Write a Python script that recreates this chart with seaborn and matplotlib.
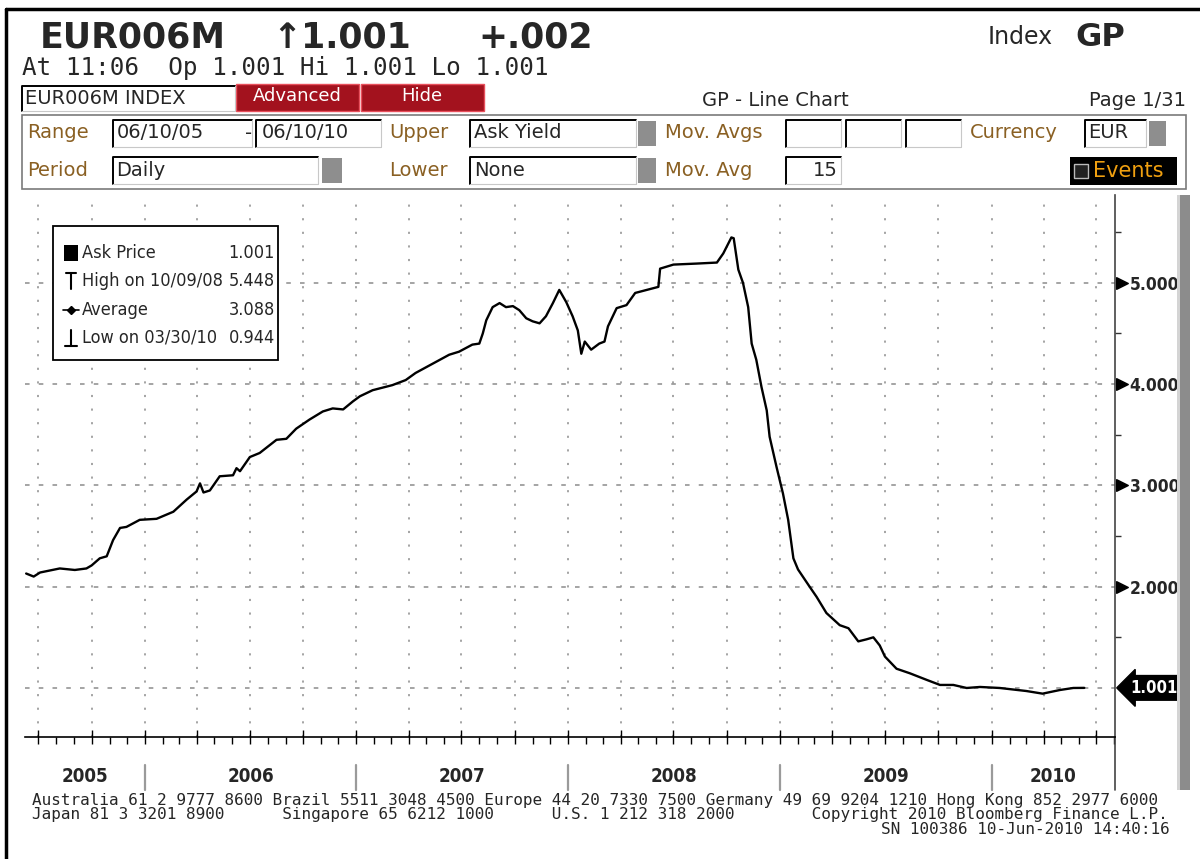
import matplotlib
matplotlib.use("Agg")
import matplotlib.pyplot as plt
import matplotlib.dates as mdates
import matplotlib.transforms as mtransforms
from matplotlib.patches import Rectangle
from matplotlib.lines import Line2D
from matplotlib.ticker import FixedLocator, NullFormatter
import pandas as pd
import seaborn as sns

# ---- data (EUR006M, ask yield, daily) ----
dates = [
    "2005-06-10", "2005-06-23", "2005-07-04", "2005-08-07", "2005-09-02", "2005-09-22",
    "2005-10-01", "2005-10-15", "2005-10-27", "2005-11-07", "2005-11-19", "2005-11-30",
    "2005-12-23", "2006-01-21", "2006-02-19", "2006-03-14", "2006-03-31", "2006-04-06",
    "2006-04-12", "2006-04-23", "2006-05-10", "2006-06-02", "2006-06-08", "2006-06-14",
    "2006-07-01", "2006-07-18", "2006-08-16", "2006-09-02", "2006-09-19", "2006-10-12",
    "2006-11-04", "2006-11-21", "2006-12-09", "2006-12-26", "2007-01-07", "2007-01-29",
    "2007-03-04", "2007-03-27", "2007-04-13", "2007-05-12", "2007-06-10", "2007-06-27",
    "2007-07-20", "2007-08-01", "2007-08-07", "2007-08-13", "2007-08-24", "2007-09-05",
    "2007-09-16", "2007-09-28", "2007-10-09", "2007-10-21", "2007-11-01", "2007-11-13",
    "2007-11-24", "2007-12-06", "2007-12-17", "2007-12-29", "2008-01-09", "2008-01-18",
    "2008-01-24", "2008-01-30", "2008-02-10", "2008-02-24", "2008-03-04", "2008-03-10",
    "2008-03-25", "2008-04-11", "2008-04-26", "2008-05-16", "2008-06-05", "2008-06-08",
    "2008-07-01", "2008-08-10", "2008-09-14", "2008-09-25", "2008-10-09", "2008-10-13",
    "2008-10-21", "2008-10-29", "2008-11-07", "2008-11-13", "2008-11-21", "2008-11-30",
    "2008-12-09", "2008-12-14", "2008-12-26", "2009-01-06", "2009-01-15", "2009-01-24",
    "2009-02-01", "2009-02-21", "2009-03-05", "2009-03-22", "2009-04-14", "2009-04-29",
    "2009-05-16", "2009-05-30", "2009-06-11", "2009-06-22", "2009-07-01", "2009-07-21",
    "2009-08-13", "2009-09-11", "2009-10-04", "2009-10-27", "2009-11-19", "2009-12-12",
    "2010-01-15", "2010-03-02", "2010-03-30", "2010-04-29", "2010-05-22", "2010-06-10",
]
ask_yield = [
    2.13, 2.10, 2.14, 2.18, 2.165, 2.18,
    2.21, 2.28, 2.30, 2.46, 2.58, 2.59,
    2.66, 2.67, 2.74, 2.86, 2.94, 3.02,
    2.93, 2.95, 3.09, 3.10, 3.17, 3.14,
    3.28, 3.32, 3.45, 3.46, 3.56, 3.65,
    3.73, 3.76, 3.75, 3.83, 3.88, 3.94,
    3.99, 4.04, 4.11, 4.20, 4.29, 4.32,
    4.39, 4.40, 4.50, 4.63, 4.76, 4.80,
    4.76, 4.77, 4.73, 4.65, 4.62, 4.60,
    4.67, 4.80, 4.93, 4.81, 4.67, 4.53,
    4.30, 4.42, 4.34, 4.40, 4.42, 4.57,
    4.75, 4.78, 4.90, 4.93, 4.96, 5.14,
    5.18, 5.19, 5.20, 5.29, 5.448, 5.44,
    5.13, 5.00, 4.76, 4.40, 4.24, 3.97,
    3.74, 3.48, 3.18, 2.92, 2.66, 2.28,
    2.17, 2.00, 1.90, 1.74, 1.62, 1.59,
    1.46, 1.48, 1.50, 1.42, 1.31, 1.19,
    1.145, 1.08, 1.03, 1.03, 1.00, 1.01,
    1.00, 0.97, 0.944, 0.98, 1.00, 1.001,
]
y_ticks = [1, 2, 3, 4, 5]
y_tick_labels = ["", "2.000", "3.000", "4.000", "5.000"]
y_minor = [1.5, 2.5, 3.5, 4.5, 5.5]
year_labels = ["2005", "2006", "2007", "2008", "2009", "2010"]
legend_labels = ["Ask Price", "High on 10/09/08", "Average", "Low on 03/30/10"]
legend_values = ["1.001", "5.448", "3.088", "0.944"]
last_value = 1.001

sns.set_style("white")
plt.rcParams["font.family"] = ["DejaVu Sans"]

W, H = 1200, 859
fig = plt.figure(figsize=(12, 8.59), dpi=100)
fig.patch.set_facecolor("white")

def fx(x):
    return x / W

def fy(y):
    return 1 - y / H

def rect(x0, y0, x1, y1, **kw):
    fig.add_artist(Rectangle((fx(x0), fy(y1)), fx(x1) - fx(x0), fy(y0) - fy(y1),
                             transform=fig.transFigure, **kw))

def line(xs, ys, **kw):
    fig.add_artist(Line2D([fx(v) for v in xs], [fy(v) for v in ys], transform=fig.transFigure, **kw))

def inset_box(x0, y0, x1, y1):
    # bloomberg style entry field: dark top/left edge
    rect(x0, y0, x1, y1, facecolor="white", edgecolor="none")
    line([x0, x0, x1], [y1, y0, y0], color="black", lw=1.4)
    line([x1, x1, x0], [y0, y1, y1], color="#c8c8c8", lw=0.8)

brown = "#8a6023"
mono = "DejaVu Sans Mono"
cond = dict(fontstretch="condensed")

# ---- outer frame ----
line([6, 6], [859, 9], color="black", lw=2.5)
line([6, 1200], [9, 9], color="black", lw=2.5)

# ---- header ----
fig.text(fx(40), fy(37), "EUR006M", fontsize=25, fontweight="bold", va="center")
fig.text(fx(272), fy(37), "\u21911.001", fontsize=25, fontweight="bold", va="center")
fig.text(fx(478), fy(37), "+.002", fontsize=25, fontweight="bold", va="center")
fig.text(fx(988), fy(37), "Index", fontsize=17, va="center")
fig.text(fx(1075), fy(37), "GP", fontsize=23, fontweight="bold", va="center")
fig.text(fx(22), fy(68), "At 11:06  Op 1.001 Hi 1.001 Lo 1.001", family=mono, fontsize=17.5, va="center")

inset_box(22, 86, 235, 111)
fig.text(fx(25), fy(99), "EUR006M INDEX", fontsize=14, va="center")
rect(236, 84, 359, 111, facecolor="#a3121e", edgecolor="#e8505c", lw=1)
fig.text(fx(297), fy(96), "Advanced", fontsize=13, color="white", ha="center", va="center")
rect(361, 84, 484, 111, facecolor="#a3121e", edgecolor="#e8505c", lw=1)
fig.text(fx(422), fy(96), "Hide", fontsize=13, color="white", ha="center", va="center")
fig.text(fx(775), fy(100), "GP - Line Chart", fontsize=14, ha="center", va="center")
fig.text(fx(1186), fy(100), "Page 1/31", fontsize=14, ha="right", va="center")

# options panel
rect(22, 115, 1186, 189, facecolor="white", edgecolor="#7a7a7a", lw=1.2)
r1, r2 = 133, 171
fig.text(fx(27), fy(r1), "Range", fontsize=14, color=brown, va="center")
fig.text(fx(27), fy(r2), "Period", fontsize=14, color=brown, va="center")
fig.text(fx(389), fy(r1), "Upper", fontsize=14, color=brown, va="center")
fig.text(fx(389), fy(r2), "Lower", fontsize=14, color=brown, va="center")
fig.text(fx(665), fy(r1), "Mov. Avgs", fontsize=14, color=brown, va="center")
fig.text(fx(665), fy(r2), "Mov. Avg", fontsize=14, color=brown, va="center")
fig.text(fx(970), fy(r1), "Currency", fontsize=14, color=brown, va="center")

inset_box(113, 120, 252, 147)
fig.text(fx(117), fy(r1), "06/10/05", fontsize=14, va="center")
fig.text(fx(245), fy(r1), "-", fontsize=14, va="center")
inset_box(256, 120, 381, 147)
fig.text(fx(262), fy(r1), "06/10/10", fontsize=14, va="center")
inset_box(470, 120, 636, 147)
fig.text(fx(474), fy(r1), "Ask Yield", fontsize=14, va="center")
rect(638, 121, 656, 146, facecolor="#8e8e8e", edgecolor="none")
for bx in (786, 846, 906):
    inset_box(bx, 120, bx + 55, 147)
inset_box(1085, 120, 1146, 147)
fig.text(fx(1088), fy(r1), "EUR", fontsize=14, va="center")
rect(1149, 121, 1166, 146, facecolor="#8e8e8e", edgecolor="none")

inset_box(113, 157, 318, 184)
fig.text(fx(116), fy(r2), "Daily", fontsize=14, va="center")
rect(322, 158, 342, 183, facecolor="#8e8e8e", edgecolor="none")
inset_box(470, 157, 636, 184)
fig.text(fx(474), fy(r2), "None", fontsize=14, va="center")
rect(638, 158, 656, 183, facecolor="#8e8e8e", edgecolor="none")
inset_box(786, 157, 841, 184)
fig.text(fx(838), fy(r2), "15", fontsize=14, ha="right", va="center")
rect(1070, 157, 1177, 185, facecolor="black", edgecolor="none")
rect(1074, 164, 1088, 178, facecolor="#222222", edgecolor="#bbbbbb", lw=1)
fig.text(fx(1093), fy(r2), "Events", fontsize=15, color="#f0a010", va="center")

# ---- chart ----
ax = fig.add_axes([fx(25), fy(737), fx(1115) - fx(25), fy(195) - fy(737)])
df = pd.DataFrame({"date": pd.to_datetime(dates), "ask_yield": ask_yield})
sns.lineplot(data=df, x="date", y="ask_yield", ax=ax, color="black", linewidth=1.7)

x0, x1 = pd.Timestamp("2005-06-08"), pd.Timestamp("2010-08-02")
ax.set_xlim(x0, x1)
ax.set_ylim(0.516, 5.867)
ax.set_xlabel("")
ax.set_ylabel("")

ax.xaxis.set_major_locator(mdates.MonthLocator(bymonth=[1, 4, 7, 10]))
ax.xaxis.set_minor_locator(mdates.MonthLocator())
ax.xaxis.set_major_formatter(NullFormatter())
ax.tick_params(axis="x", which="major", direction="inout", length=10, width=1, color="black", bottom=True)
ax.tick_params(axis="x", which="minor", direction="out", length=5, width=1, color="black", bottom=True)

ax.yaxis.tick_right()
ax.set_yticks(y_ticks)
ax.set_yticklabels(y_tick_labels, fontweight="bold", fontsize=12.5, **cond)
ax.yaxis.set_minor_locator(FixedLocator(y_minor))
ax.tick_params(axis="y", which="major", length=0, pad=10.5, right=True)
ax.tick_params(axis="y", which="minor", length=4, width=1, direction="out", color="#333333", right=True)

ax.grid(axis="x", which="major", color="#8c8c8c", linestyle=(0, (1.4, 7.5)), linewidth=1.1)
ax.grid(axis="y", which="major", color="#8c8c8c", linestyle=(0, (3, 6)), linewidth=1.1)

for s in ("left", "top"):
    ax.spines[s].set_visible(False)
ax.spines["right"].set_color("#444444")
ax.spines["right"].set_linewidth(1.2)
ax.spines["bottom"].set_color("black")
ax.spines["bottom"].set_linewidth(1.2)

ytrans = mtransforms.blended_transform_factory(ax.transAxes, ax.transData)
tri_trans = ytrans + mtransforms.ScaledTranslation(7 / 100, 0, fig.dpi_scale_trans)
ax.scatter([1.0] * 4, y_ticks[1:], marker=">", s=70, color="black", transform=tri_trans,
           clip_on=False, zorder=5)
ax.text(1.0, last_value, "1.001",
        transform=ytrans + mtransforms.ScaledTranslation(15 / 100, 0, fig.dpi_scale_trans),
        ha="left", va="center", fontsize=12, fontweight="bold", color="white",
        bbox=dict(boxstyle="larrow,pad=0.2", facecolor="black", edgecolor="black"),
        clip_on=False, **cond)

# year band below the axis
xtrans = mtransforms.blended_transform_factory(ax.transData, ax.transAxes)
starts = [pd.Timestamp(f"{y}-01-01") for y in year_labels]
for st in starts[1:]:
    ax.plot([st, st], [-0.052, -0.098], transform=xtrans, color="#9a9a9a", lw=1.6, clip_on=False)
ax.plot([1, 1], [0, -0.098], transform=ax.transAxes, color="#444444", lw=1.2, clip_on=False)
for lab, st in zip(year_labels, starts):
    a = max(mdates.date2num(st), mdates.date2num(x0))
    b = min(mdates.date2num(pd.Timestamp(f"{int(lab) + 1}-01-01")), mdates.date2num(x1))
    ax.text((a + b) / 2, -0.072, lab, transform=xtrans, ha="center", va="center",
            fontsize=13.5, fontweight="bold", **cond)

# legend box
rect(53, 226, 278, 360, facecolor="white", edgecolor="black", lw=1.3, zorder=6)
rows = [253, 281, 310, 338]
for lab, val, ry in zip(legend_labels, legend_values, rows):
    fig.text(fx(82), fy(ry), lab, fontsize=13, va="center", zorder=7, **cond)
    fig.text(fx(275), fy(ry), val, fontsize=13, va="center", ha="right", zorder=7, **cond)
rect(64, 245, 78, 261, facecolor="black", edgecolor="none", zorder=7)
line([66, 76], [273, 273], color="black", lw=1.5, zorder=7)
line([71, 71], [273, 289], color="black", lw=1.5, zorder=7)
line([63, 79], [310, 310], color="black", lw=1.2, zorder=7)
fig.add_artist(Line2D([fx(71)], [fy(310)], color="black", marker="D", markersize=4.5,
                      linestyle="none", transform=fig.transFigure, zorder=7))
line([71, 71], [330, 346], color="black", lw=1.5, zorder=7)
line([65, 77], [346, 346], color="black", lw=1.5, zorder=7)

# scroll bar on the right
rect(1177, 195, 1180, 790, facecolor="#d4d4d4", edgecolor="none")
rect(1180, 195, 1190, 790, facecolor="#8c8c8c", edgecolor="none")

# ---- footer ----
fig.text(fx(32), fy(800), "Australia 61 2 9777 8600 Brazil 5511 3048 4500 Europe 44 20 7330 7500 Germany 49 69 9204 1210 Hong Kong 852 2977 6000",
         family=mono, fontsize=11.5, va="center")
fig.text(fx(32), fy(815), "Japan 81 3 3201 8900      Singapore 65 6212 1000      U.S. 1 212 318 2000        Copyright 2010 Bloomberg Finance L.P.",
         family=mono, fontsize=11.5, va="center")
fig.text(fx(1170), fy(830), "SN 100386 10-Jun-2010 14:40:16", family=mono, fontsize=11.5, va="center", ha="right")

fig.savefig("out.png", dpi=100)
